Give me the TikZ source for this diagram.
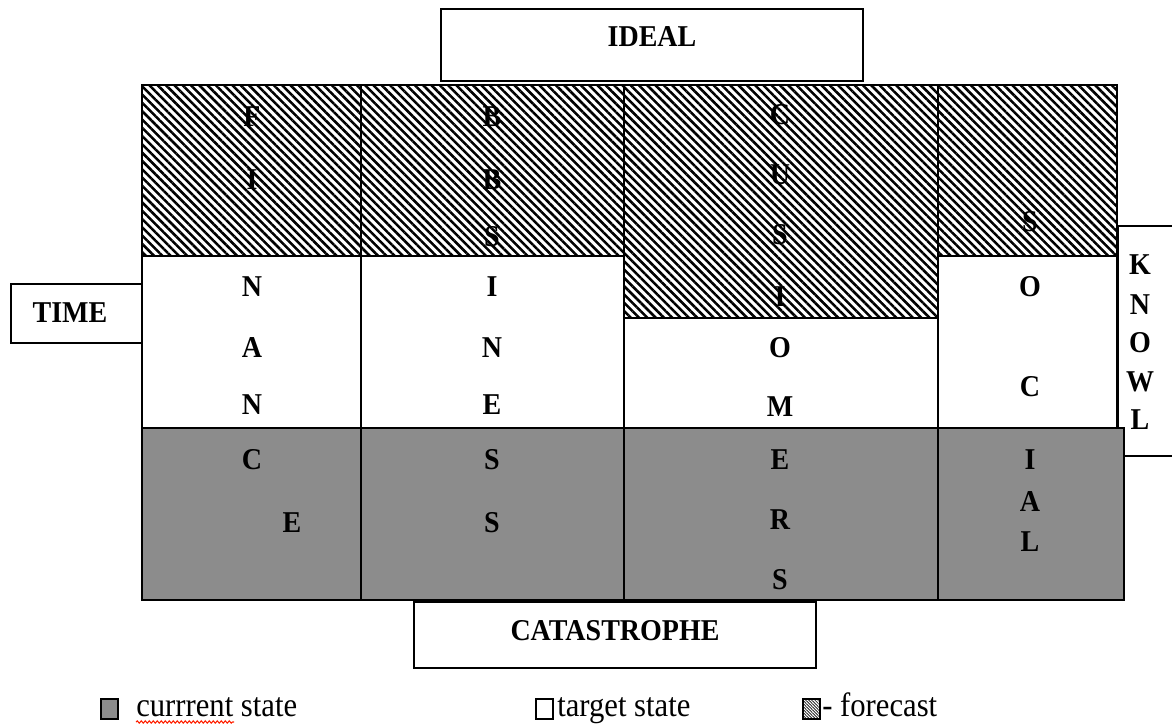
\documentclass[tikz,border=0pt]{standalone}
\usepackage{fontspec}
\setmainfont{Liberation Serif}
\usetikzlibrary{patterns.meta,decorations.pathmorphing}

\begin{document}
\begin{tikzpicture}[x=0.75pt,y=-0.75pt,
    frame/.style={line width=1.3pt},
    forecast/.style={frame,pattern={Lines[angle=-45,distance=4.4pt,line width=1.9pt]}},
    current/.style={frame,fill=black!45},
    target/.style={frame,fill=white},
    letter/.style={font=\fontsize{21}{24}\selectfont\bfseries,inner sep=0pt,yscale=1.08,transform shape},
    legtext/.style={font=\fontsize{23}{26}\selectfont,anchor=base west,inner sep=0pt,yscale=1.1,transform shape}]
  \useasboundingbox (0,0) rectangle (1172,724);
  % side boxes
  \draw[frame] (1172,226) -- (1118,226) -- (1118,456) -- (1172,456);
  \draw[frame] (11,284) rectangle (142,343);
  \draw[frame] (441,9) rectangle (863,81);
  \draw[frame] (414,602) rectangle (816,668);
  % forecast row
  \draw[forecast] (142,85) rectangle (361,256);
  \draw[forecast] (361,85) rectangle (624,256);
  \draw[forecast] (624,85) rectangle (938,318);
  \draw[forecast] (938,85) rectangle (1117,256);
  % target row
  \draw[target] (142,256) rectangle (361,428);
  \draw[target] (361,256) rectangle (624,428);
  \draw[target] (624,318) rectangle (938,428);
  \draw[target] (938,256) rectangle (1117,428);
  % current row
  \draw[current] (142,428) rectangle (361,600);
  \draw[current] (361,428) rectangle (624,600);
  \draw[current] (624,428) rectangle (938,600);
  \draw[current] (938,428) rectangle (1124,600);

  \node[letter] (ideal) at (652,37) {IDEAL};
  \node[letter] (time) at (70,313) {TIME};
  \node[letter] (cat) at (615,631) {CATASTROPHE};

  % column words
  \foreach \ltr/\yy [count=\i] in {F/117,I/180,N/287,A/348,N/405,C/460}
    \node[letter] (fin\i) at (252,\yy) {\ltr};
  \node[letter] (fin7) at (292,523) {E};
  \foreach \ltr/\yy [count=\i] in {B/117,B/180,S/237,I/287,N/348,E/405,S/460,S/523}
    \node[letter] (bus\i) at (492,\yy) {\ltr};
  \foreach \ltr/\yy [count=\i] in {C/115,U/175,S/235,I/297,O/348,M/407,E/460,R/520,S/580}
    \node[letter] (cus\i) at (780,\yy) {\ltr};
  \foreach \ltr/\yy [count=\i] in {S/222,O/287,C/387,I/460,A/502,L/542}
    \node[letter] (soc\i) at (1030,\yy) {\ltr};
  \foreach \ltr/\yy [count=\i] in {K/265,N/305,O/343,W/382,L/420}
    \node[letter] (know\i) at (1140,\yy) {\ltr};

  % legend
  \draw[frame,fill=black!45,line width=1pt] (101,699) rectangle (118,719);
  \node[legtext] (curleg) at (136,716) {currrent state};
  \draw[red!75!orange,line width=0.8pt,decorate,decoration={snake,amplitude=0.9pt,segment length=3pt}]
    (136,722) -- (234,722);
  \draw[line width=1pt] (536,699) rectangle (553,719);
  \node[legtext] (tarleg) at (557,716) {target state};
  \draw[line width=1pt,pattern={Lines[angle=-45,distance=1.6pt,line width=0.5pt]}]
    (803,699) rectangle (820,719);
  \node[legtext] (forleg) at (822,716) {- forecast};
\end{tikzpicture}
\end{document}
